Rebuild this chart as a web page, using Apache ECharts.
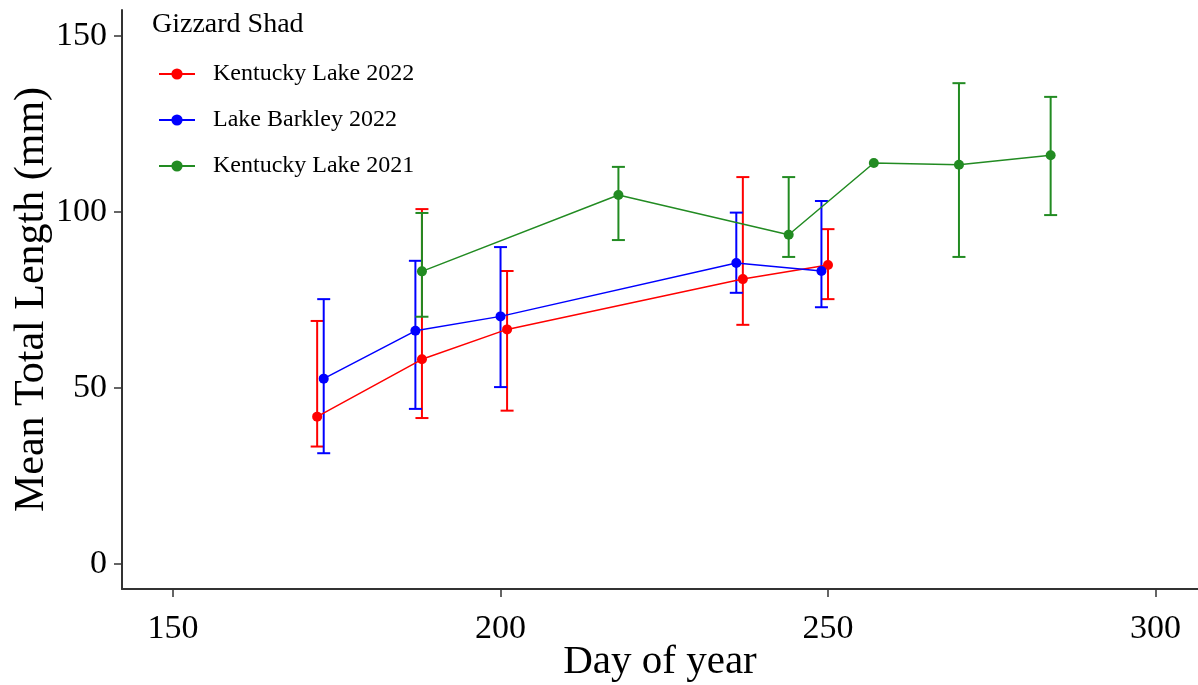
<!DOCTYPE html>
<html>
<head>
<meta charset="utf-8">
<script src="https://cdn.jsdelivr.net/npm/echarts@6/dist/echarts.min.js"></script>
<style>
  html, body { margin: 0; padding: 0; background: #fff; }
  #chart { width: 1198px; height: 685px; }
</style>
</head>
<body>
<div id="chart"></div>
<script>
'use strict';

// Kentucky Lake 2022
const kl22Day = [172, 188, 201, 237, 250];
const kl22Mean = [41.8, 58.1, 66.6, 80.9, 84.9];
const kl22Lo = [33.3, 41.4, 43.5, 67.9, 75.2];
const kl22Hi = [69.0, 100.8, 83.2, 109.9, 95.1];

// Lake Barkley 2022
const bl22Day = [173, 187, 200, 236, 249];
const bl22Mean = [52.6, 66.2, 70.3, 85.5, 83.2];
const bl22Lo = [31.4, 44.0, 50.2, 77.0, 72.9];
const bl22Hi = [75.2, 86.1, 90.0, 99.8, 103.1];

// Kentucky Lake 2021
const kl21Day = [188, 218, 244, 257, 270, 284];
const kl21Mean = [83.1, 104.8, 93.5, 113.9, 113.4, 116.1];
const kl21Lo = [70.2, 92.0, 87.2, null, 87.2, 99.1];
const kl21Hi = [99.7, 112.8, 109.9, null, 136.6, 132.7];

const xTicks = [150, 200, 250, 300];
const yTicks = [0, 50, 100, 150];

const groups = [
    { name: 'Kentucky Lake 2022', color: '#ff0000', day: kl22Day, mean: kl22Mean, lo: kl22Lo, hi: kl22Hi },
    { name: 'Lake Barkley 2022', color: '#0000ff', day: bl22Day, mean: bl22Mean, lo: bl22Lo, hi: bl22Hi },
    { name: 'Kentucky Lake 2021', color: '#228b22', day: kl21Day, mean: kl21Mean, lo: kl21Lo, hi: kl21Hi }
];

const serif = 'Liberation Serif';

// 误差线：竖线 + 上下两个横帽
function errorBar(color) {
    return function (params, api) {
        const x = api.value(0);
        const lo = api.value(1);
        const hi = api.value(2);
        const top = api.coord([x, hi]);
        const bot = api.coord([x, lo]);
        const half = 6.5;
        const style = { stroke: color, lineWidth: 2 };
        return {
            type: 'group',
            children: [
                { type: 'line', shape: { x1: top[0], y1: top[1], x2: bot[0], y2: bot[1] }, style: style },
                { type: 'line', shape: { x1: top[0] - half, y1: top[1], x2: top[0] + half, y2: top[1] }, style: style },
                { type: 'line', shape: { x1: bot[0] - half, y1: bot[1], x2: bot[0] + half, y2: bot[1] }, style: style }
            ]
        };
    };
}

const series = [];
groups.forEach((g) => {
    const bars = [];
    g.day.forEach((d, i) => {
        if (g.lo[i] != null && g.hi[i] != null) bars.push([d, g.lo[i], g.hi[i]]);
    });
    series.push({
        type: 'custom',
        name: g.name + ' err',
        renderItem: errorBar(g.color),
        encode: { x: 0, y: [1, 2] },
        data: bars,
        z: 2,
        silent: true
    });
    series.push({
        type: 'line',
        name: g.name,
        data: g.day.map((d, i) => [d, g.mean[i]]),
        color: g.color,
        symbol: 'circle',
        symbolSize: 10,
        lineStyle: { width: 1.5, color: g.color },
        itemStyle: { color: g.color },
        z: 3
    });
});

const chart = echarts.init(document.getElementById('chart'));
chart.setOption({
    animation: false,
    backgroundColor: '#fff',
    title: {
        text: 'Gizzard Shad',
        left: 147,
        top: 6,
        textStyle: { fontFamily: serif, fontSize: 28, fontWeight: 'normal', color: '#000' }
    },
    legend: {
        data: groups.map((g) => g.name),
        orient: 'vertical',
        left: 158,
        top: 61,
        padding: 0,
        itemWidth: 36,
        itemHeight: 14,
        itemGap: 20,
        textStyle: { fontFamily: serif, fontSize: 24, color: '#000', lineHeight: 26, padding: [0, 0, 0, 13] }
    },
    grid: { left: 122, right: 0, top: 10, bottom: 96, outerBoundsMode: 'none', containLabel: false },
    xAxis: {
        type: 'value',
        min: 142.2,
        max: 306.5,
        name: 'Day of year',
        nameLocation: 'middle',
        nameGap: 53,
        nameMoveOverlap: false,
        nameTextStyle: { fontFamily: serif, fontSize: 41, color: '#000' },
        splitLine: { show: false },
        axisLine: { onZero: false, lineStyle: { color: '#333', width: 2 } },
        axisTick: { length: 8, lineStyle: { color: '#333', width: 1.5 }, customValues: xTicks },
        axisLabel: { fontFamily: serif, fontSize: 34, color: '#000', margin: 23, customValues: xTicks }
    },
    yAxis: {
        type: 'value',
        min: -7.2,
        max: 157.4,
        name: 'Mean Total Length (mm)',
        nameLocation: 'middle',
        nameGap: 69,
        nameMoveOverlap: false,
        nameRotate: 90,
        nameTextStyle: { fontFamily: serif, fontSize: 42, color: '#000' },
        splitLine: { show: false },
        axisLine: { show: true, onZero: false, lineStyle: { color: '#333', width: 2 } },
        axisTick: { show: true, length: 8, lineStyle: { color: '#333', width: 1.5 }, customValues: yTicks },
        axisLabel: { fontFamily: serif, fontSize: 34, color: '#000', margin: 15, customValues: yTicks }
    },
    series: series
});
</script>
</body>
</html>
